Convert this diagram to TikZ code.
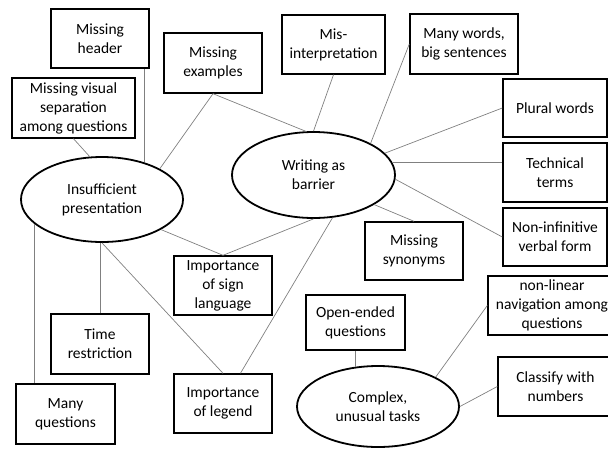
\documentclass[tikz,border=0pt]{standalone}
\usepackage{fontspec}
\setmainfont{Carlito}
\usetikzlibrary{shapes.geometric,calc}
\begin{document}
\begin{tikzpicture}[x=1pt,y=-1pt,
  txt/.style={font=\fontsize{15.5}{19}\selectfont,align=center,inner sep=0pt,fill=white,text=black},
  box/.style={txt,draw=black,line width=1.4pt,rectangle},
  oval/.style={txt,draw=black,line width=1.8pt,ellipse},
  link/.style={draw=black!50,line width=0.7pt}]
\useasboundingbox (0,0) rectangle (608,448);
\clip (0,0) rectangle (608,448);
% boxes
\node[box,minimum width=98pt,minimum height=59pt] (hdr) at (100,38.5) {Missing\\header};
\node[box,minimum width=123pt,minimum height=60pt] (vis) at (73.5,108) {Missing visual\\separation\\among questions};
\node[box,minimum width=98pt,minimum height=60pt] (exa) at (213,63) {Missing\\examples};
\node[box,minimum width=103pt,minimum height=59pt] (mis) at (333.5,44.5) {Mis-\\interpretation};
\node[box,minimum width=108pt,minimum height=60pt] (mny) at (464,44) {Many words,\\big sentences};
\node[box,minimum width=104pt,minimum height=58pt] (plu) at (555,108) {Plural words};
\node[box,minimum width=104pt,minimum height=59pt] (tec) at (555,172.5) {Technical\\terms};
\node[box,minimum width=104pt,minimum height=58pt] (non) at (555,237) {Non-infinitive\\verbal form};
\node[box,minimum width=98pt,minimum height=58pt] (syn) at (414,251) {Missing\\synonyms};
\node[box,minimum width=128pt,minimum height=59pt] (nli) at (552,305.5) {non-linear\\navigation among\\questions};
\node[box,minimum width=115pt,minimum height=59pt] (cls) at (555.5,386.5) {Classify with\\numbers};
\node[box,minimum width=99pt,minimum height=55pt] (ope) at (355.5,322.5) {Open-ended\\questions};
\node[box,minimum width=98pt,minimum height=59pt] (sig) at (223,285.5) {Importance\\of sign\\language};
\node[box,minimum width=98pt,minimum height=60pt] (tim) at (100,344) {Time\\restriction};
\node[box,minimum width=99pt,minimum height=60pt] (mqu) at (65.5,414) {Many\\questions};
\node[box,minimum width=98pt,minimum height=59pt] (leg) at (223,403.5) {Importance\\of legend};
% ellipses
\node[oval,minimum width=162pt,minimum height=85pt] (ins) at (102,199.5) {Insufficient\\presentation};
\node[oval,minimum width=163pt,minimum height=86pt] (wri) at (313.5,175) {Writing as\\barrier};
\node[oval,minimum width=162pt,minimum height=81pt] (cpx) at (378,406.5) {Complex,\\unusual tasks};
% connectors
\draw[link] (ins.41) -- (ins.41 |- hdr.south);
\draw[link] (vis.south) -- (ins.106);
\draw[link] (exa.south) -- (ins.28);
\draw[link] (exa.south) -- (wri.100);
\draw[link] (mis.south) -- (wri.north);
\draw[link] (mny.west) -- (wri.29);
\draw[link] (plu.west) -- (wri.17);
\draw[link] (wri.9) -- (wri.9 -| tec.west);
\draw[link] (wri.-3) -- (non.west);
\draw[link] (syn.north) -- (wri.-26);
\draw[link] (sig.north) -- (wri.south);
\draw[link] (sig.north) -- (ins.-27);
\draw[link] (leg.60) -- (wri.-66);
\draw[link] (ins.south) -- (leg.north);
\draw[link] (tim.north) -- (tim.north |- ins.south);
\draw[link] (ins.200) -- (ins.200 |- mqu.north);
\draw[link] (ope.south) -- (ope.south |- cpx.119);
\draw[link] (nli.west) -- (cpx.27);
\draw[link] (cls.west) -- (cpx.east);
\end{tikzpicture}
\end{document}
